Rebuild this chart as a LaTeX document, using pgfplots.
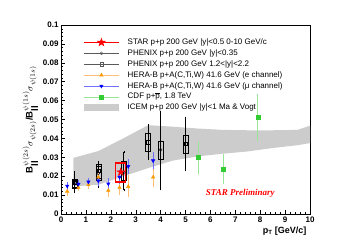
\documentclass[border=0pt]{standalone}
\usepackage{fontspec}
\setmainfont{Liberation Sans}
\newfontfamily\timesfont{Liberation Serif}
\usepackage{pgfplots}
\pgfplotsset{compat=1.18}
\definecolor{herae}{RGB}{255,153,0}
\definecolor{heraelight}{RGB}{255,190,120}
\definecolor{heramu}{RGB}{0,0,255}
\definecolor{heramulight}{RGB}{110,110,255}
\definecolor{cdf}{RGB}{51,204,51}
\definecolor{cdflight}{RGB}{150,230,150}
\definecolor{band}{RGB}{204,204,204}
\definecolor{phgray}{RGB}{90,90,90}
\pgfdeclareplotmark{fstar}{%
  \pgfpathmoveto{\pgfpointpolar{90}{\pgfplotmarksize}}%
  \pgfpathlineto{\pgfpointpolar{126}{0.382*\pgfplotmarksize}}%
  \pgfpathlineto{\pgfpointpolar{162}{\pgfplotmarksize}}%
  \pgfpathlineto{\pgfpointpolar{198}{0.382*\pgfplotmarksize}}%
  \pgfpathlineto{\pgfpointpolar{234}{\pgfplotmarksize}}%
  \pgfpathlineto{\pgfpointpolar{270}{0.382*\pgfplotmarksize}}%
  \pgfpathlineto{\pgfpointpolar{306}{\pgfplotmarksize}}%
  \pgfpathlineto{\pgfpointpolar{342}{0.382*\pgfplotmarksize}}%
  \pgfpathlineto{\pgfpointpolar{18}{\pgfplotmarksize}}%
  \pgfpathlineto{\pgfpointpolar{54}{0.382*\pgfplotmarksize}}%
  \pgfpathclose
  \pgfusepathqfillstroke}
\begin{document}
\begin{tikzpicture}
\path[use as bounding box] (0,0) rectangle (345pt,245pt);
\begin{axis}[
  at={(61pt,31pt)}, anchor=south west,
  width=249pt, height=189pt, scale only axis,
  xmin=0, xmax=10, ymin=0, ymax=0.1,
  xtick={0,1,2,3,4,5,6,7,8,9,10},
  xticklabels={0,1,2,3,4,5,6,7,8,9,10},
  ytick={0,0.01,0.02,0.03,0.04,0.05,0.06,0.07,0.08,0.09,0.1},
  yticklabels={0,0.01,0.02,0.03,0.04,0.05,0.06,0.07,0.08,0.09,0.1},
  scaled y ticks=false,
  minor tick num=4,
  tick align=inside, xtick pos=bottom, ytick pos=left,
  major tick length=4pt, minor tick length=2pt,
  tick style={black, line width=0.4pt},
  axis line style={line width=0.5pt},
  tick label style={font=\fontsize{8}{9}\selectfont\bfseries},
  xticklabel style={yshift=1pt},
  yticklabel style={xshift=1pt},
  xlabel={\textbf{p$_{\mathbf{T}}$ [GeV/c]}},
  xlabel style={at={(rel axis cs:1,0)}, anchor=north east, yshift=-9pt, font=\fontsize{9}{10}\selectfont},
  ylabel={\textbf{B}$^{\psi(2s)}_{\textbf{ll}}\sigma_{\psi(2s)}$\textbf{/B}$^{\psi(1s)}_{\textbf{ll}}\sigma_{\psi(1s)}$},
  ylabel style={font=\fontsize{9.5}{10}\selectfont, yshift=-2pt},
  legend style={draw=none, fill=none, at={(rel axis cs:0.088,0.931)}, anchor=north west,
    inner sep=0pt, row sep=2.9pt, font=\fontsize{8}{9}\selectfont,
    nodes={inner sep=0pt, text height=5.5pt, text depth=1.5pt},
    /tikz/every odd column/.append style={column sep=8pt}},
  legend cell align=left,
]
% ICEM band
\addplot[fill=band, draw=none, forget plot] coordinates {
 (0.5,0.0146)(0.5,0.0297)(1.5,0.0333)(2.5,0.0400)(3.5,0.0470)(4.5,0.0462)(5.5,0.0452)
 (6.5,0.0445)(7.5,0.0443)(8.5,0.0443)(9.5,0.0445)(10,0.0467)
 (10,0.0375)(9.5,0.0364)(8.5,0.0349)(7.5,0.0331)(6.5,0.0319)(5.5,0.0305)(4.5,0.0283)
 (3.5,0.0243)(2.5,0.0199)(1.5,0.0155)} -- cycle;
% PHENIX systematic boxes
\addplot[black, line width=0.5pt, forget plot] coordinates {(0.45,0.014)(0.65,0.014)(0.65,0.018)(0.45,0.018)} -- cycle;
\addplot[black, line width=0.5pt, forget plot] coordinates {(0.45,0.0135)(0.65,0.0135)(0.65,0.0185)(0.45,0.0185)} -- cycle;
\addplot[black, line width=0.5pt, forget plot] coordinates {(1.4,0.018)(1.6,0.018)(1.6,0.025)(1.4,0.025)} -- cycle;
\addplot[black, line width=0.5pt, forget plot] coordinates {(1.4,0.019)(1.6,0.019)(1.6,0.0265)(1.4,0.0265)} -- cycle;
\addplot[black, line width=0.5pt, forget plot] coordinates {(2.42,0.018)(2.62,0.018)(2.62,0.028)(2.42,0.028)} -- cycle;
\addplot[black, line width=0.5pt, forget plot] coordinates {(3.9,0.029)(4.1,0.029)(4.1,0.0387)(3.9,0.0387)} -- cycle;
\addplot[black, line width=0.5pt, forget plot] coordinates {(3.4,0.0331)(3.6,0.0331)(3.6,0.0428)(3.4,0.0428)} -- cycle;
\addplot[black, line width=0.5pt, forget plot] coordinates {(4.9,0.0324)(5.1,0.0324)(5.1,0.0415)(4.9,0.0415)} -- cycle;
% PHENIX |y|<0.35 (open circles)
\addplot[only marks, mark=o, black, mark size=1.5pt, forget plot,
  error bars/.cd, y dir=both, y explicit,
  error bar style={black, line width=0.5pt}, error mark options={black, mark size=1pt}]
  coordinates {
  (0.55,0.0160) += (0,0.006) -= (0,0.0045)
  (1.5,0.0215) += (0,0.005) -= (0,0.007)
  (2.52,0.0220) += (0,0.0107) -= (0,0.0095)
  (4.0,0.0340) += (0,0.020) -= (0,0.021)
};
% PHENIX 1.2<|y|<2.2 (open squares)
\addplot[only marks, mark=square, black, mark size=1.6pt, forget plot,
  error bars/.cd, y dir=both, y explicit,
  error bar style={black, line width=0.5pt}, error mark options={black, mark size=1pt}]
  coordinates {
  (0.55,0.0165) += (0,0.003) -= (0,0.003)
  (1.5,0.0230) += (0,0.0045) -= (0,0.0045)
  (3.5,0.0380) += (0,0.009) -= (0,0.009)
  (5.0,0.0370) += (0,0.014) -= (0,0.0135)
};
% HERA-B e channel
\addplot[only marks, mark=triangle*, herae, mark size=2pt, forget plot,
  error bars/.cd, y dir=both, y explicit,
  error bar style={heraelight, line width=0.6pt}, error mark options={heraelight, mark size=1pt, line width=0.6pt}]
  coordinates {
  (0.25,0.0120) += (0,0.002) -= (0,0.002)
  (0.7,0.0140) += (0,0.0015) -= (0,0.0015)
  (1.1,0.0155) += (0,0.002) -= (0,0.002)
  (1.5,0.0195) += (0,0.002) -= (0,0.002)
  (1.9,0.0125) += (0,0.0035) -= (0,0.003)
  (2.35,0.0140) += (0,0.0035) -= (0,0.0035)
  (2.7,0.0145) += (0,0.0055) -= (0,0.005)
  (3.7,0.0195) += (0,0.0045) -= (0,0.0045)
};
% HERA-B mu channel
\addplot[only marks, mark=triangle*, mark options={rotate=180}, heramu, mark size=2pt, forget plot,
  error bars/.cd, y dir=both, y explicit,
  error bar style={heramulight, line width=0.6pt}, error mark options={heramulight, mark size=1pt, line width=0.6pt}]
  coordinates {
  (0.25,0.0148) += (0,0.0015) -= (0,0.0015)
  (0.7,0.0158) += (0,0.0015) -= (0,0.0015)
  (1.1,0.0170) += (0,0.0015) -= (0,0.0015)
  (1.5,0.0175) += (0,0.002) -= (0,0.002)
  (1.9,0.0160) += (0,0.0025) -= (0,0.0025)
  (2.35,0.0195) += (0,0.003) -= (0,0.003)
  (2.7,0.0252) += (0,0.0035) -= (0,0.0035)
  (3.7,0.0282) += (0,0.004) -= (0,0.004)
};
% CDF
\addplot[only marks, mark=square*, cdf, mark size=2pt, forget plot,
  error bars/.cd, y dir=both, y explicit,
  error bar style={cdflight, line width=0.7pt}, error mark options={cdflight, mark size=1pt, line width=0.7pt}]
  coordinates {
  (5.5,0.0300) += (0,0.008) -= (0,0.0085)
  (6.5,0.0238) += (0,0.0072) -= (0,0.0073)
  (7.9,0.0510) += (0,0.012) -= (0,0.012)
};
% STAR
\addplot[red, line width=1.2pt, forget plot] coordinates {(2.2,0.0169)(2.6,0.0169)(2.6,0.027)(2.2,0.027)} -- cycle;
\addplot[only marks, mark=fstar, red, mark size=4pt, forget plot] coordinates {(2.4,0.0222)};
% legend
\addlegendimage{legend image code/.code={\path[draw=none,fill=none] (0pt,-4pt) rectangle (35pt,4pt); \draw[red, line width=1.6pt] (0pt,0pt)--(35pt,0pt); \draw[red] plot[only marks, mark=fstar, mark size=4.2pt] coordinates {(17.5pt,0pt)};}}
\addlegendimage{legend image code/.code={\path[draw=none,fill=none] (0pt,-4pt) rectangle (35pt,4pt); \draw[phgray, line width=0.5pt] (0pt,0pt)--(35pt,0pt); \draw[phgray, fill=white] plot[only marks, mark=o, mark size=1.5pt] coordinates {(17.5pt,0pt)};}}
\addlegendimage{legend image code/.code={\path[draw=none,fill=none] (0pt,-4pt) rectangle (35pt,4pt); \draw[phgray, line width=0.5pt] (0pt,0pt)--(35pt,0pt); \draw[phgray] plot[only marks, mark=square, mark size=1.6pt, mark options={fill=white}] coordinates {(17.5pt,0pt)};}}
\addlegendimage{legend image code/.code={\path[draw=none,fill=none] (0pt,-4pt) rectangle (35pt,4pt); \draw[heraelight, line width=0.6pt] (0pt,0pt)--(35pt,0pt); \draw[herae] plot[only marks, mark=triangle*, mark size=2pt] coordinates {(17.5pt,0pt)};}}
\addlegendimage{legend image code/.code={\path[draw=none,fill=none] (0pt,-4pt) rectangle (35pt,4pt); \draw[heramulight, line width=0.6pt] (0pt,0pt)--(35pt,0pt); \draw[heramu] plot[only marks, mark=triangle*, mark size=2pt, mark options={rotate=180}] coordinates {(17.5pt,0pt)};}}
\addlegendimage{legend image code/.code={\path[draw=none,fill=none] (0pt,-4pt) rectangle (35pt,4pt); \draw[cdflight, line width=0.6pt] (0pt,0pt)--(35pt,0pt); \draw[cdf] plot[only marks, mark=square*, mark size=2pt] coordinates {(17.5pt,0pt)};}}
\addlegendimage{legend image code/.code={\path[draw=none,fill=none] (0pt,-4pt) rectangle (35pt,4pt); \path[fill=band,draw=none] (0pt,-3.6pt) rectangle (35pt,3.6pt);}}
\legend{STAR p+p 200 GeV |y|<0.5 0-10 GeV/c,
  PHENIX p+p 200 GeV |y|<0.35,
  PHENIX p+p 200 GeV 1.2<|y|<2.2,
  HERA-B p+A(C{,}Ti{,}W) 41.6 GeV (e channel),
  HERA-B p+A(C{,}Ti{,}W) 41.6 GeV (μ channel),
  CDF p+$\overline{\mbox{p}}${,} 1.8 TeV,
  ICEM p+p 200 GeV |y|<1 Ma \& Vogt}
\node[red, font=\timesfont\fontsize{9}{10}\selectfont\bfseries\itshape] at (axis cs:7.2,0.011) {STAR Preliminary};
\end{axis}
\end{tikzpicture}
\end{document}
